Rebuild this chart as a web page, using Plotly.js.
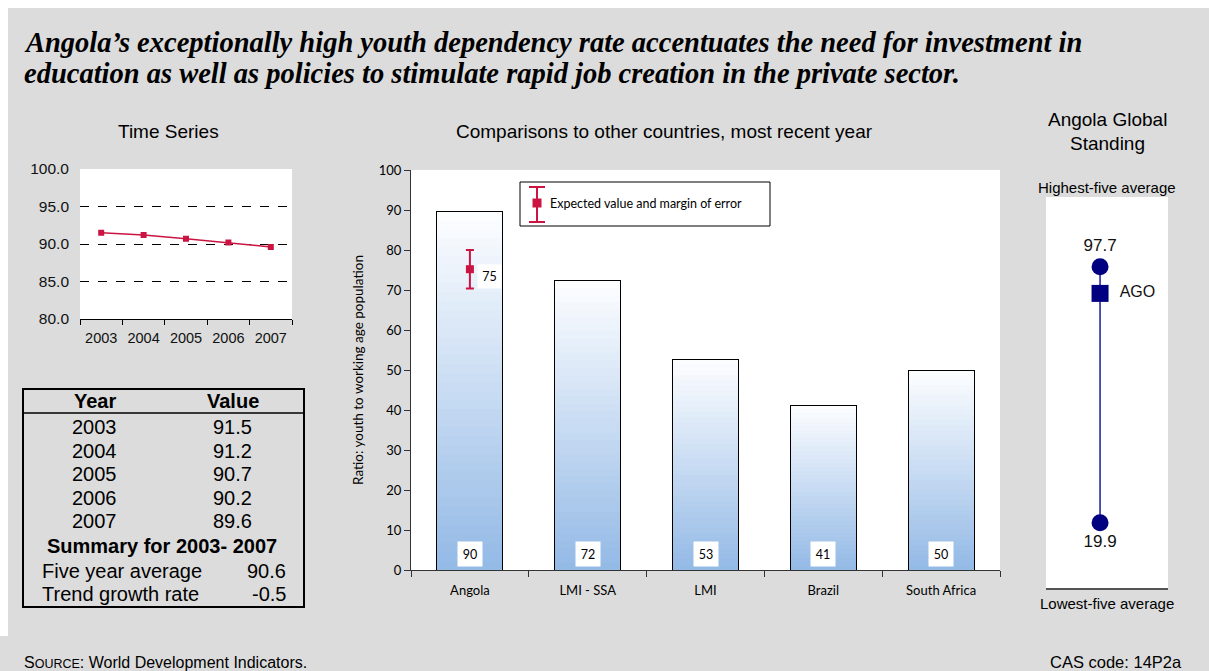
<!DOCTYPE html>
<html>
<head>
<meta charset="utf-8">
<script src="https://cdn.plot.ly/plotly-3.0.1.min.js"></script>
<style>
  html, body { margin:0; padding:0; background:#ffffff; }
  #bg1 { position:absolute; left:8px; top:8px; width:1201px; height:663px; background:#dcdcdc; }
  #bg2 { position:absolute; left:0; top:636px; width:8px; height:35px; background:#dcdcdc; }
  #chart { position:absolute; left:0; top:0; width:1209px; height:671px; }
</style>
</head>
<body>
<div id="bg1"></div>
<div id="bg2"></div>
<div id="chart"></div>
<script>
// ---------------- data ----------------
const years = ['2003', '2004', '2005', '2006', '2007'];
const tsValues = [91.5, 91.2, 90.7, 90.2, 89.6];
const tsTickVals = [80, 85, 90, 95, 100];

const countries = ['Angola', 'LMI - SSA', 'LMI', 'Brazil', 'South Africa'];
const ratios = [89.6, 72.3, 52.7, 41.2, 49.9];
const barLabels = ['90', '72', '53', '41', '50'];

const expectedCountry = ['Angola'];
const expectedValue = [75.2];
const expectedError = [4.8];
const expectedLabel = ['75'];

const standingLabels = ['19.9', '97.7'];
const standingValues = [19.9, 97.7];
const agoValue = [89.6];
const agoLabel = ['AGO'];

const summaryAverage = '90.6';
const summaryTrend = '-0.5';

// ---------------- helpers ----------------
const W = 1209, H = 671;
const fx = p => p / W;
const fy = p => 1 - p / H;
const ARIAL = 'Liberation Sans, Arial, sans-serif';
const GILL = 'Lato, Liberation Sans, sans-serif';
const SERIF = 'Liberation Serif, Times New Roman, serif';
const CRIMSON = '#cc1443';
const NAVY = '#000080';

function txt(x, y, text, size, anchor, extra) {
  return Object.assign({
    xref: 'paper', yref: 'paper', x: fx(x), y: fy(y), text: text,
    showarrow: false, xanchor: anchor || 'center', yanchor: 'middle',
    font: { family: ARIAL, size: size, color: '#000' }
  }, extra || {});
}

// ---------------- traces ----------------
const traces = [];

// time series
traces.push({
  type: 'scatter', mode: 'lines+markers', x: years, y: tsValues,
  xaxis: 'x', yaxis: 'y',
  line: { color: CRIMSON, width: 1.5 },
  marker: { symbol: 'square', size: 6, color: CRIMSON },
  hoverinfo: 'skip', showlegend: false
});

// gradient bars (stacked slices)
const N = 40;
const bottomCol = [148, 186, 230];
const topCol = [252, 253, 255];
for (let k = 0; k < N; k++) {
  const t = k / (N - 1);
  const c = bottomCol.map((b, i) => Math.round(b + (topCol[i] - b) * t));
  traces.push({
    type: 'bar', x: countries, y: ratios.map(v => v / N),
    xaxis: 'x2', yaxis: 'y2', width: 0.56,
    marker: { color: 'rgb(' + c.join(',') + ')', line: { width: 0 } },
    hoverinfo: 'skip', showlegend: false
  });
}
// bar outlines
traces.push({
  type: 'bar', x: countries, y: ratios, xaxis: 'x4', yaxis: 'y2', width: 0.56,
  marker: { color: 'rgba(0,0,0,0)', line: { color: '#000', width: 1 } },
  hoverinfo: 'skip', showlegend: false
});
// expected value with margin of error
traces.push({
  type: 'scatter', mode: 'markers', x: expectedCountry, y: expectedValue,
  xaxis: 'x4', yaxis: 'y2',
  marker: { symbol: 'square', size: 8, color: CRIMSON },
  error_y: { type: 'data', array: expectedError, visible: true, color: CRIMSON, thickness: 2, width: 4 },
  hoverinfo: 'skip', showlegend: false
});

// global standing
traces.push({
  type: 'scatter', mode: 'lines+markers+text', x: [0, 0], y: standingValues,
  xaxis: 'x3', yaxis: 'y3',
  line: { color: '#1a1aa0', width: 1.5 },
  marker: { symbol: 'circle', size: 17, color: NAVY },
  text: standingLabels, textposition: ['bottom center', 'top center'],
  textfont: { family: ARIAL, size: 17, color: '#111' },
  hoverinfo: 'skip', showlegend: false
});
traces.push({
  type: 'scatter', mode: 'markers+text', x: [0], y: agoValue,
  xaxis: 'x3', yaxis: 'y3',
  marker: { symbol: 'square', size: 17, color: NAVY },
  text: agoLabel, texttemplate: '  %{text}', textposition: 'middle right',
  textfont: { family: ARIAL, size: 16, color: '#111' },
  hoverinfo: 'skip', showlegend: false
});

// ---------------- annotations ----------------
const ann = [];
ann.push(txt(22, 42, '<b><i>Angola’s exceptionally high youth dependency rate accentuates the need for investment in</i></b>', 28.5, 'left',
  { font: { family: SERIF, size: 28.5, color: '#000' } }));
ann.push(txt(22, 73, '<b><i>education as well as policies to stimulate rapid job creation in the private sector.</i></b>', 28.5, 'left',
  { font: { family: SERIF, size: 28.5, color: '#000' } }));

ann.push(txt(168, 131, 'Time Series', 19));
ann.push(txt(664, 131, 'Comparisons to other countries, most recent year', 19));
ann.push(txt(1107, 119, 'Angola Global', 19));
ann.push(txt(1107, 143, 'Standing', 19));
ann.push(txt(1107, 188, 'Highest-five average', 15));
ann.push(txt(1107, 603, 'Lowest-five average', 15));

// bar value labels
countries.forEach((c, i) => {
  ann.push({
    xref: 'x2', yref: 'y2', x: c, y: 0, yanchor: 'bottom', yshift: 3,
    text: barLabels[i], showarrow: false, bgcolor: '#ffffff', width: 22, height: 22,
    font: { family: GILL, size: 12.5, color: '#000' }
  });
});
// expected value label
ann.push({
  xref: 'x2', yref: 'y2', x: expectedCountry[0], y: expectedValue[0], xshift: 20, yshift: -7,
  text: expectedLabel[0], showarrow: false, bgcolor: '#ffffff', width: 21, height: 21,
  font: { family: GILL, size: 12.5, color: '#000' }
});
// legend text
ann.push(txt(548, 203, 'Expected value and margin of error', 12.5, 'left', { font: { family: GILL, size: 12.5, color: '#000' } }));

// table
ann.push(txt(95, 401, '<b>Year</b>', 20));
ann.push(txt(233, 401, '<b>Value</b>', 20));
years.forEach((y, i) => {
  ann.push(txt(94, 427 + i * 23.5, y, 20));
  ann.push(txt(233, 427 + i * 23.5, tsValues[i].toFixed(1), 20));
});
ann.push(txt(162, 546, '<b>Summary for ' + years[0] + '- ' + years[years.length - 1] + '</b>', 20));
ann.push(txt(40, 571, 'Five year average', 20, 'left'));
ann.push(txt(288, 571, summaryAverage, 20, 'right'));
ann.push(txt(40, 594, 'Trend growth rate', 20, 'left'));
ann.push(txt(288, 594, summaryTrend, 20, 'right'));

// footer
ann.push(txt(22, 662, 'S<span style="font-size:12.5px">OURCE</span>: World Development Indicators.', 16, 'left'));
ann.push(txt(1184, 662, 'CAS code: 14P2a', 16.5, 'right'));

// ---------------- shapes ----------------
const shapes = [
  // table border
  { type: 'rect', xref: 'paper', yref: 'paper', x0: fx(23), x1: fx(304), y0: fy(389), y1: fy(607),
    line: { color: '#000', width: 2 }, fillcolor: 'rgba(0,0,0,0)' },
  { type: 'line', xref: 'paper', yref: 'paper', x0: fx(23), x1: fx(304), y0: fy(413), y1: fy(413),
    line: { color: '#000', width: 1.5 } },
  // legend box
  { type: 'rect', xref: 'paper', yref: 'paper', x0: fx(520), x1: fx(770), y0: fy(182), y1: fy(226),
    line: { color: '#000', width: 1 }, fillcolor: '#ffffff' },
  // legend glyph
  { type: 'line', xref: 'paper', yref: 'paper', x0: fx(537), x1: fx(537), y0: fy(187), y1: fy(222),
    line: { color: CRIMSON, width: 2 } },
  { type: 'line', xref: 'paper', yref: 'paper', x0: fx(529), x1: fx(545), y0: fy(187), y1: fy(187),
    line: { color: CRIMSON, width: 2 } },
  { type: 'line', xref: 'paper', yref: 'paper', x0: fx(529), x1: fx(545), y0: fy(222), y1: fy(222),
    line: { color: CRIMSON, width: 2 } },
  { type: 'rect', xref: 'paper', yref: 'paper', x0: fx(532.5), x1: fx(541.5), y0: fy(198.5), y1: fy(207.5),
    line: { width: 0 }, fillcolor: CRIMSON }
];

// ---------------- layout ----------------
const layout = {
  width: W, height: H,
  margin: { l: 0, r: 0, t: 0, b: 0, pad: 0 },
  paper_bgcolor: 'rgba(0,0,0,0)',
  plot_bgcolor: '#ffffff',
  showlegend: false,
  barmode: 'stack',
  bargap: 0,
  font: { family: ARIAL, color: '#000' },
  xaxis: {
    domain: [fx(80), fx(292)], anchor: 'y', type: 'category', categoryarray: years,
    range: [-0.5, 4.5], ticks: 'outside', tickson: 'boundaries', ticklen: 5, tickcolor: '#000',
    showline: true, linecolor: '#000', linewidth: 1, showgrid: false, zeroline: false,
    tickangle: 0, ticklabelstandoff: 6,
    tickfont: { family: ARIAL, size: 14.5, color: '#111' }, fixedrange: true
  },
  yaxis: {
    domain: [fy(319), fy(169)], anchor: 'x', range: [80, 100], tickvals: tsTickVals,
    tickformat: '.1f', ticks: '', showline: false, showgrid: true, gridcolor: '#000',
    gridwidth: 1, griddash: 'dash', zeroline: false, ticklabelstandoff: 10,
    tickfont: { family: ARIAL, size: 15.5, color: '#111' }, fixedrange: true
  },
  xaxis2: {
    domain: [fx(411), fx(1000)], anchor: 'y2', type: 'category', categoryarray: countries,
    range: [-0.5, 4.5], ticks: 'outside', tickson: 'boundaries', ticklen: 6, tickcolor: '#333',
    showline: true, linecolor: '#333', linewidth: 1, showgrid: false, zeroline: false,
    tickangle: 0,
    tickfont: { family: GILL, size: 13, color: '#000' }, ticklabelstandoff: 8, fixedrange: true
  },
  xaxis4: {
    overlaying: 'x2', anchor: 'y2', type: 'category', categoryarray: countries,
    range: [-0.5, 4.5], visible: false, fixedrange: true
  },
  yaxis2: {
    domain: [fy(570), fy(170)], anchor: 'x2', range: [0, 100], dtick: 10, tick0: 0,
    ticks: 'outside', ticklen: 6, tickcolor: '#333', showline: true, linecolor: '#333', linewidth: 1,
    showgrid: false, zeroline: false,
    tickfont: { family: GILL, size: 13, color: '#000' },
    title: { text: 'Ratio: youth to working age population', standoff: 12,
      font: { family: GILL, size: 13.5, color: '#000' } },
    fixedrange: true
  },
  xaxis3: {
    domain: [fx(1046), fx(1168)], anchor: 'y3', range: [-0.443, 0.557],
    showticklabels: false, ticks: '', showgrid: false, zeroline: false,
    showline: true, linecolor: '#555', linewidth: 2, fixedrange: true
  },
  yaxis3: {
    domain: [fy(588), fy(197)], anchor: 'x3', range: [0.05, 118.9],
    showticklabels: false, ticks: '', showgrid: false, zeroline: false, showline: false, fixedrange: true
  },
  annotations: ann,
  shapes: shapes
};

Plotly.newPlot('chart', traces, layout, { staticPlot: true, displayModeBar: false });
</script>
</body>
</html>
